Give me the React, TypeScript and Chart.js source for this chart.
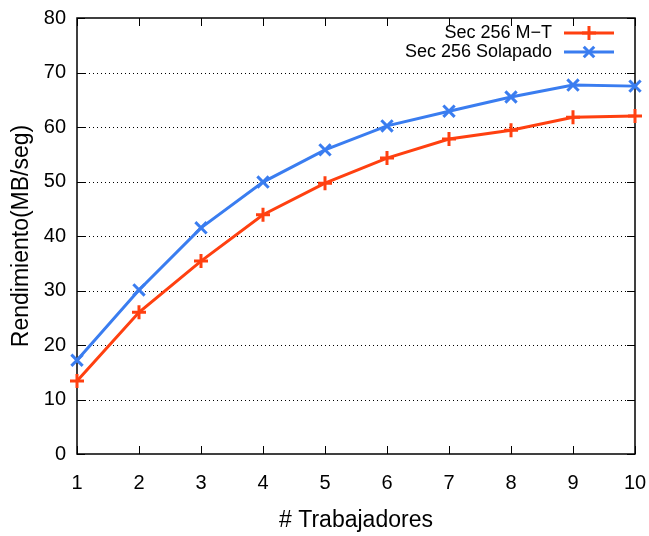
import React, { useEffect, useRef } from "react";
import { Chart, registerables } from "chart.js";

Chart.register(...registerables);

const workers = [1, 2, 3, 4, 5, 6, 7, 8, 9, 10];
const secMT = [13.4, 26.0, 35.4, 43.9, 49.7, 54.3, 57.8, 59.4, 61.8, 62.0];
const secSolapado = [17.2, 30.1, 41.5, 49.9, 55.8, 60.2, 62.9, 65.5, 67.7, 67.5];
const seriesNames = ["Sec 256 M\u2212T", "Sec 256 Solapado"];
const xTitle = "# Trabajadores";
const yTitle = "Rendimiento(MB/seg)";

const RED = "rgb(255,64,16)";
const BLUE = "rgb(58,125,240)";
const FONT = "'Liberation Sans', Arial, sans-serif";

const framePlugin = {
  id: "gnuFrame",
  beforeDatasetsDraw(chart: any) {
    const { ctx, chartArea: a, scales } = chart;
    const xs = scales.x;
    const ys = scales.y;
    ctx.save();
    ctx.strokeStyle = "#000";
    ctx.lineWidth = 1;
    ctx.setLineDash([1, 3]);
    for (let v = 10; v < 80; v += 10) {
      const y = Math.round(ys.getPixelForValue(v)) + 0.5;
      ctx.beginPath();
      ctx.moveTo(a.left, y);
      ctx.lineTo(a.right, y);
      ctx.stroke();
    }
    ctx.setLineDash([]);
    const tl = 8;
    ctx.beginPath();
    for (let v = 0; v <= 80; v += 10) {
      const y = Math.round(ys.getPixelForValue(v)) + 0.5;
      ctx.moveTo(a.left, y);
      ctx.lineTo(a.left + tl, y);
      ctx.moveTo(a.right, y);
      ctx.lineTo(a.right - tl, y);
    }
    for (const w of workers) {
      const x = Math.round(xs.getPixelForValue(w)) + 0.5;
      ctx.moveTo(x, a.bottom);
      ctx.lineTo(x, a.bottom - tl);
      ctx.moveTo(x, a.top);
      ctx.lineTo(x, a.top + tl);
    }
    ctx.stroke();
    ctx.lineWidth = 1.5;
    ctx.strokeRect(a.left, a.top, a.right - a.left, a.bottom - a.top);
    ctx.restore();
  },
  afterDatasetsDraw(chart: any) {
    const { ctx } = chart;
    ctx.save();
    ctx.font = `18px ${FONT}`;
    ctx.textAlign = "right";
    ctx.textBaseline = "middle";
    const rows = [33, 52];
    chart.data.datasets.forEach((ds: any, i: number) => {
      const y = rows[i];
      ctx.fillStyle = "#000";
      ctx.fillText(ds.label, 552, y);
      ctx.strokeStyle = ds.borderColor;
      ctx.lineWidth = 3;
      ctx.beginPath();
      ctx.moveTo(564, y);
      ctx.lineTo(614, y);
      ctx.stroke();
      const r = 7;
      ctx.beginPath();
      if (ds.pointStyle === "cross") {
        ctx.moveTo(589 - r, y);
        ctx.lineTo(589 + r, y);
        ctx.moveTo(589, y - r);
        ctx.lineTo(589, y + r);
      } else {
        const d = r * 0.75;
        ctx.moveTo(589 - d, y - d);
        ctx.lineTo(589 + d, y + d);
        ctx.moveTo(589 - d, y + d);
        ctx.lineTo(589 + d, y - d);
      }
      ctx.stroke();
    });
    ctx.restore();
  },
};

export default function App() {
  const ref = useRef<HTMLCanvasElement>(null);
  useEffect(() => {
    if (!ref.current) return;
    const chart = new Chart(ref.current, {
      type: "line",
      data: {
        datasets: [
          {
            label: seriesNames[0],
            data: workers.map((w, i) => ({ x: w, y: secMT[i] })),
            borderColor: RED,
            backgroundColor: RED,
            borderWidth: 3,
            pointStyle: "cross",
            pointRadius: 7,
            pointBorderWidth: 3,
            pointBorderColor: RED,
            clip: false as any,
          },
          {
            label: seriesNames[1],
            data: workers.map((w, i) => ({ x: w, y: secSolapado[i] })),
            borderColor: BLUE,
            backgroundColor: BLUE,
            borderWidth: 3,
            pointStyle: "crossRot",
            pointRadius: 8,
            pointBorderWidth: 3,
            pointBorderColor: BLUE,
            clip: false as any,
          },
        ],
      },
      options: {
        animation: false,
        responsive: false,
        layout: { padding: { left: 0, right: 14, top: 18, bottom: 0 } },
        plugins: { legend: { display: false }, tooltip: { enabled: false } },
        scales: {
          x: {
            type: "linear",
            min: 1,
            max: 10,
            afterFit(s: any) {
              s.height = 82;
              s.paddingLeft = 0;
              s.paddingRight = 0;
            },
            grid: { display: false, drawTicks: false },
            border: { display: false },
            ticks: {
              stepSize: 1,
              padding: 17,
              color: "#000",
              font: { family: FONT, size: 20 },
            },
            title: {
              display: true,
              text: xTitle,
              color: "#000",
              font: { family: FONT, size: 23 },
              padding: { top: 0, bottom: 2 },
            },
          },
          y: {
            min: 0,
            max: 80,
            afterFit(s: any) {
              s.width = 77;
              s.paddingTop = 0;
              s.paddingBottom = 0;
            },
            grid: { display: false, drawTicks: false },
            border: { display: false },
            ticks: {
              stepSize: 10,
              padding: 11,
              color: "#000",
              font: { family: FONT, size: 20 },
            },
            title: {
              display: true,
              text: yTitle,
              color: "#000",
              font: { family: FONT, size: 23 },
              padding: { top: 8, bottom: 0 },
            },
          },
        },
      },
      plugins: [framePlugin],
    });
    return () => chart.destroy();
  }, []);
  return (
    <div style={{ position: "absolute", left: 0, top: 0, width: 649, height: 536, background: "#fff" }}>
      <canvas ref={ref} width={649} height={536} />
    </div>
  );
}
